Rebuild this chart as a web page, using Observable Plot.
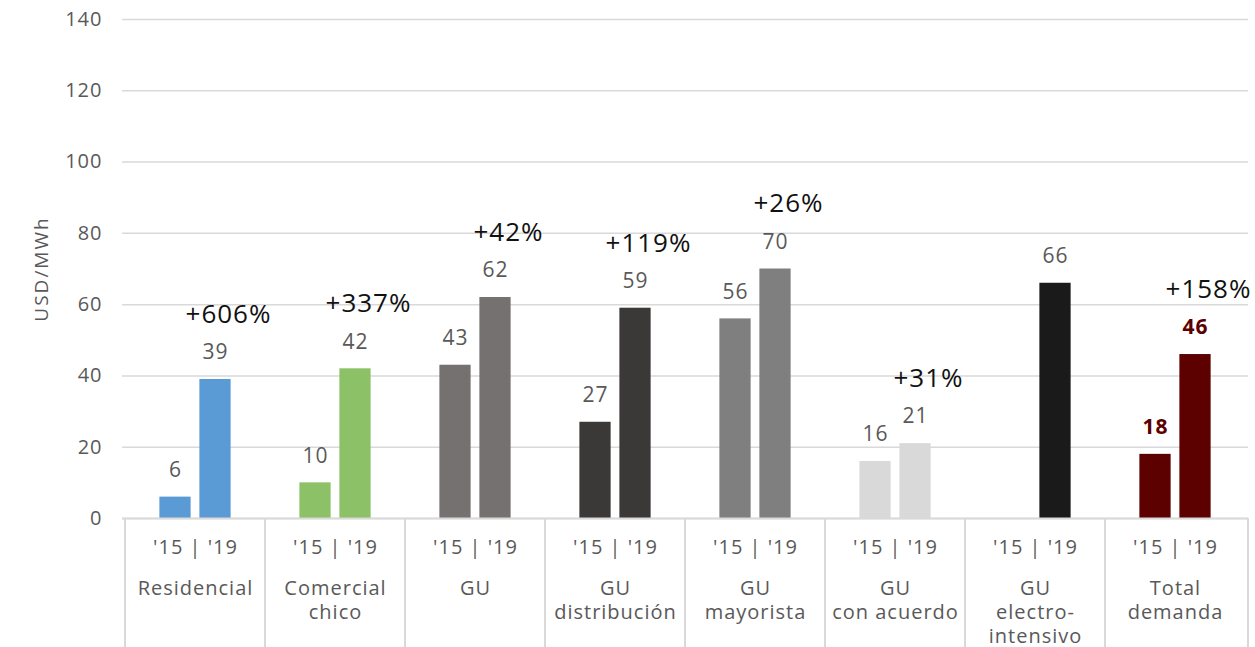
<!DOCTYPE html>
<html>
<head>
<meta charset="utf-8">
<script src="https://cdn.jsdelivr.net/npm/d3@7"></script>
<script src="https://cdn.jsdelivr.net/npm/@observablehq/plot@0.6"></script>
<style>
  body { margin: 0; background: #fff; }
  #chart svg { display: block; }
  #chart svg text { letter-spacing: 1px; }
  #chart svg .y-title text { letter-spacing: 2px; }
</style>
</head>
<body>
<div id="chart"></div>
<script>
// Energy price by customer segment, 2015 vs 2019 (USD/MWh)
const categories = [
  "Residencial",
  "Comercial\nchico",
  "GU",
  "GU\ndistribución",
  "GU\nmayorista",
  "GU\ncon acuerdo",
  "GU\nelectro-\nintensivo",
  "Total\ndemanda"
];
const values2015 = [6, 10, 43, 27, 56, 16, null, 18];
const values2019 = [39, 42, 62, 59, 70, 21, 66, 46];
const changeLabels = ["+606%", "+337%", "+42%", "+119%", "+26%", "+31%", null, "+158%"];
const segmentColors = ["#5b9bd5", "#8dc168", "#767171", "#3b3838", "#7f7f7f", "#d9d9d9", "#1a1a1a", "#5c0000"];
const yearPairLabel = "'15 | '19";
const yTicks = [0, 20, 40, 60, 80, 100, 120, 140];
const yLabel = "USD/MWh";

const totalCategory = categories[categories.length - 1];

const rows2015 = categories
  .map((cat, i) => ({cat, value: values2015[i]}))
  .filter(d => d.value != null);
const rows2019 = categories.map((cat, i) => ({cat, value: values2019[i]}));
const changeRows = categories
  .map((cat, i) => ({cat, value: values2019[i], label: changeLabels[i]}))
  .filter(d => d.label != null);

const W = 1255, H = 647;
const M = {top: 19, right: 7, bottom: 129, left: 122};
const step = (W - M.left - M.right) / categories.length;
const barWidth = 32;
const inset = (step - barWidth) / 2;
const offset = 20; // half the distance between the two bars of a pair

const gray = "#595959";
const lineGray = "#d9d9d9";

// vertical separators under the baseline, one at each category edge
function categoryDividers(index, scales, values, dims) {
  const {width, height, marginRight, marginBottom} = dims;
  const edges = categories.map(c => scales.x(c)).concat(width - marginRight);
  const g = d3.create("svg:g")
    .attr("stroke", lineGray)
    .attr("stroke-width", 2);
  g.selectAll("line")
    .data(edges)
    .join("line")
    .attr("x1", d => d)
    .attr("x2", d => d)
    .attr("y1", height - marginBottom)
    .attr("y2", height);
  return g.node();
}

const notTotal = d => d.cat !== totalCategory;
const isTotal = d => d.cat === totalCategory;

const chart = Plot.plot({
  width: W,
  height: H,
  marginTop: M.top,
  marginRight: M.right,
  marginBottom: M.bottom,
  marginLeft: M.left,
  style: {fontFamily: "'Open Sans', sans-serif", background: "#fff"},
  x: {domain: categories, padding: 0, axis: null},
  y: {domain: [0, 140]},
  color: {domain: categories, range: segmentColors},
  marks: [
    Plot.gridY(yTicks, {stroke: lineGray, strokeOpacity: 1, strokeWidth: 1.5}),
    Plot.axisY(yTicks, {tickSize: 0, tickPadding: 20, fontSize: 20, color: gray, label: null}),
    Plot.text([yLabel], {
      text: d => d, frameAnchor: "left", textAnchor: "middle", rotate: -90,
      dx: -81, fontSize: 19, fill: gray, className: "y-title"
    }),
    Plot.barY(rows2015, {x: "cat", y: "value", fill: "cat", insetLeft: inset, insetRight: inset, dx: -offset}),
    Plot.barY(rows2019, {x: "cat", y: "value", fill: "cat", insetLeft: inset, insetRight: inset, dx: offset}),
    Plot.ruleY([0], {stroke: lineGray, strokeWidth: 2}),
    categoryDividers,
    // value labels
    Plot.text(rows2015.filter(notTotal), {x: "cat", y: "value", text: d => String(d.value), dx: -offset, dy: -27, fontSize: 21, fill: gray}),
    Plot.text(rows2019.filter(notTotal), {x: "cat", y: "value", text: d => String(d.value), dx: offset, dy: -27, fontSize: 21, fill: gray}),
    Plot.text(rows2015.filter(isTotal), {x: "cat", y: "value", text: d => String(d.value), dx: -offset, dy: -27, fontSize: 21, fontWeight: "bold", fill: "#5c0000"}),
    Plot.text(rows2019.filter(isTotal), {x: "cat", y: "value", text: d => String(d.value), dx: offset, dy: -27, fontSize: 21, fontWeight: "bold", fill: "#5c0000"}),
    // growth labels
    Plot.text(changeRows, {x: "cat", y: "value", text: "label", dx: offset + 13, dy: -65, fontSize: 26, fill: "#111"}),
    // category axis
    Plot.text(categories, {x: d => d, text: () => yearPairLabel, frameAnchor: "bottom", dy: 35, fontSize: 20, fill: gray}),
    Plot.text(categories, {x: d => d, text: d => d, frameAnchor: "bottom", lineAnchor: "top", dy: 59, lineHeight: 1.2, fontSize: 20, fill: gray})
  ]
});

document.getElementById("chart").append(chart);
</script>
</body>
</html>
